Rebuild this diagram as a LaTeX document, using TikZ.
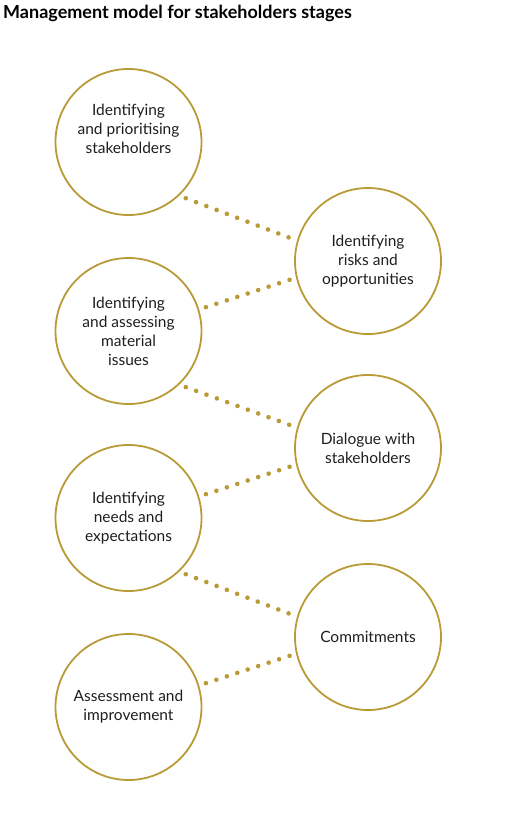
\documentclass[tikz,border=0pt]{standalone}
\usepackage{fontspec}
\setmainfont{Lato}
\definecolor{gold}{HTML}{B89A36}
\definecolor{ink}{HTML}{1E1E1E}

\begin{document}
\begin{tikzpicture}[x=1pt,y=-1pt,
    stage/.style={circle,draw=gold,line width=1.8pt,minimum size=146pt,inner sep=0pt,outer sep=0pt,
      align=center,text=ink,font=\fontsize{15.5}{19}\selectfont},
    link/.style={gold,line width=4.6pt,line cap=round,dash pattern=on 0pt off 11pt,
      shorten <=8pt,shorten >=5pt}]
    \useasboundingbox (0,0) rectangle (526,827);
    \node[anchor=base west,inner sep=0pt,text=black,font=\fontsize{18}{20}\selectfont\bfseries] (title) at (3,18)
      {Management model for stakeholders stages};
    % left column
    \node[stage] (l1) at (128.5,142) {Identifying\\and prioritising\\stakeholders\\[8pt]};
    \node[stage] (l2) at (128.5,331) {Identifying\\and assessing\\material\\issues};
    \node[stage] (l3) at (128.5,518) {Identifying\\needs and\\expectations};
    \node[stage] (l4) at (128.5,707) {Assessment and\\improvement};
    % right column
    \node[stage] (r1) at (368,261) {Identifying\\risks and\\opportunities};
    \node[stage] (r2) at (368,448) {Dialogue with\\stakeholders};
    \node[stage] (r3) at (368,637) {Commitments};
    % dotted links
    \foreach \a/\b/\s/\t in {l1/r1/-47/164,l2/r1/17/193,l2/r2/-47/164,l3/r2/17/193,l3/r3/-47/164,l4/r3/17/193}
    \draw[link] (\a.\s) -- (\b.\t);
\end{tikzpicture}
\end{document}
